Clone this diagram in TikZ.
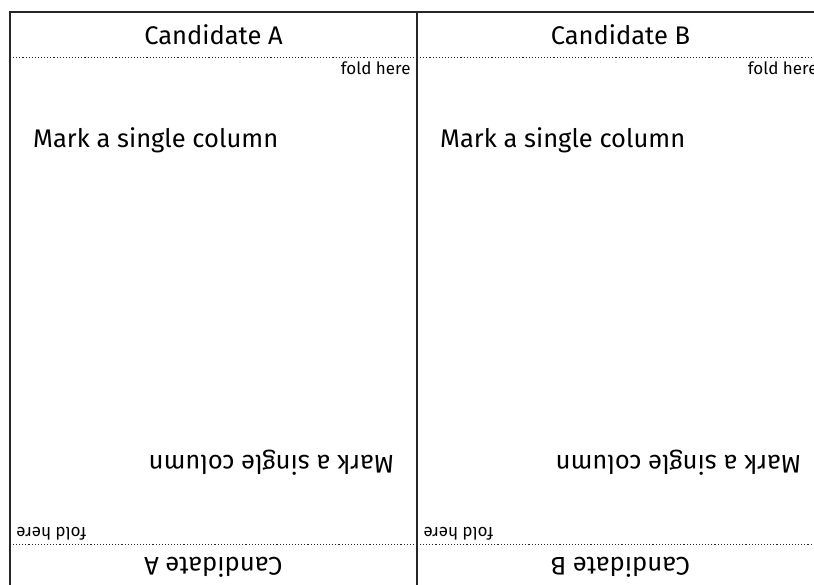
\documentclass[tikz,border=0pt]{standalone}
\usepackage{fontspec}
\setmainfont{Fira Sans}
\tikzset{
  border/.style={line width=1.5pt, draw=black!85},
  foldline/.style={line width=1.1pt, dotted, draw=black!85},
  title/.style={font=\fontsize{25.5}{28}\selectfont, inner sep=0pt, anchor=base},
  foldtxt/.style={font=\fontsize{17}{20}\selectfont, inner sep=0pt, anchor=base east},
  marktxt/.style={font=\fontsize{25.5}{28}\selectfont, inner sep=0pt, anchor=base west},
}
\newcommand{\halfcell}[2]{%
  % #1 = left x, #2 = name suffix
  \node[title] (cand#2) at (#1+203.5,44.3) {Candidate #2};
  \node[foldtxt] (fold#2) at (#1+400.7,74.5) {fold here};
  \node[marktxt] (mark#2) at (#1+23,147) {Mark a single column};
  \coordinate (dl#2) at (#1,57.5);
  \coordinate (dr#2) at (#1+407,57.5);
  \draw[foldline] (dl#2) -- (dr#2);
}
\begin{document}
\begin{tikzpicture}[x=1pt,y=-1pt]
\useasboundingbox (0,0) rectangle (814,584);
\clip (0,0) rectangle (814,584);
\fill[white] (0,0) rectangle (814,584);
% outer frame
\coordinate (tl) at (10,12);
\coordinate (tm) at (417,12);
\coordinate (tr) at (824,12);
\coordinate (bl) at (10,590);
\coordinate (bm) at (417,590);
\coordinate (br) at (824,590);
% cell A
\begin{scope}
  \halfcell{10}{A}
\end{scope}
\begin{scope}[rotate around={180:(213.5,301)}, transform shape]
  \halfcell{10}{A}
\end{scope}
% cell B
\begin{scope}
  \halfcell{417}{B}
\end{scope}
\begin{scope}[rotate around={180:(620.5,301)}, transform shape]
  \halfcell{417}{B}
\end{scope}
\draw[border] (bl) -- (tl) -- (tr) -- (br) -- cycle;
\draw[border] (tm) -- (bm);
\end{tikzpicture}
\end{document}
